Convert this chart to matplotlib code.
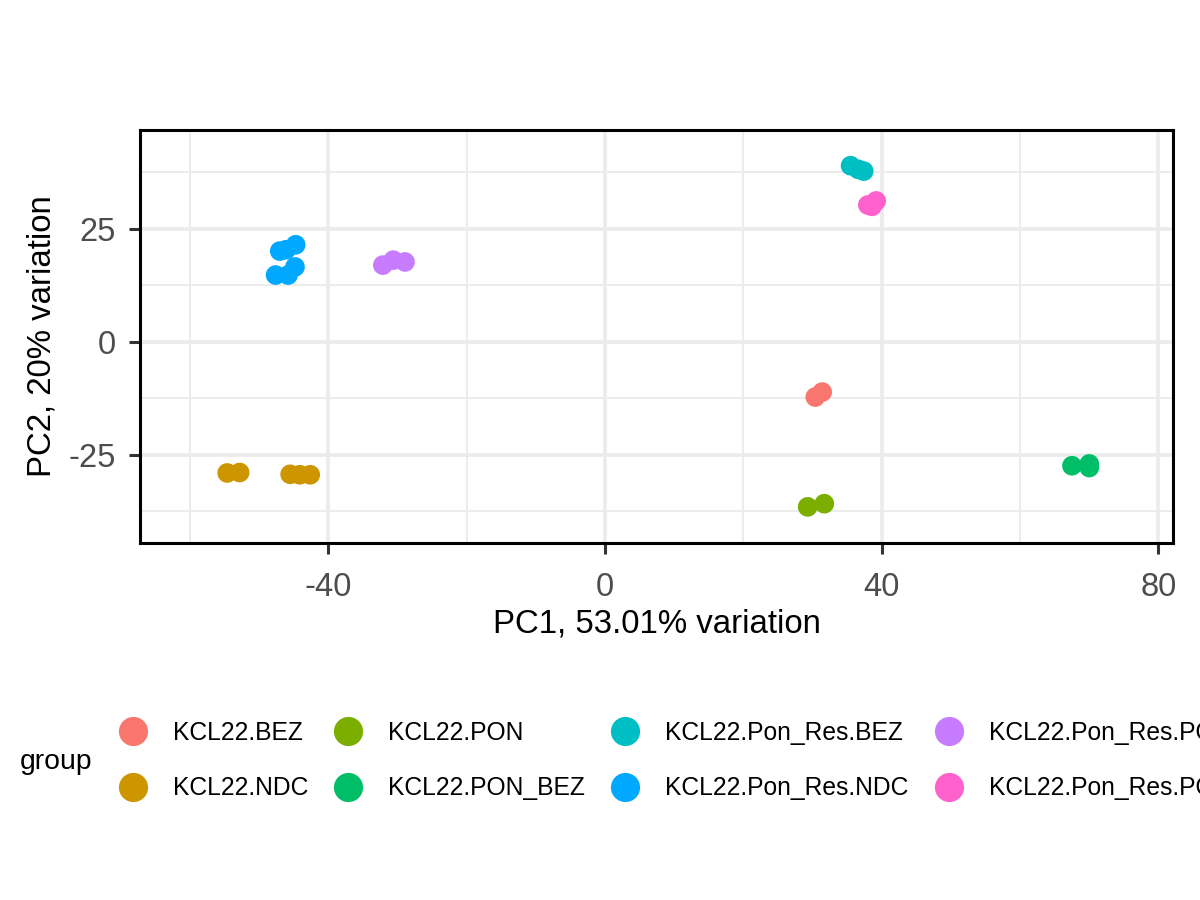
import matplotlib
matplotlib.use("Agg")
import matplotlib.pyplot as plt
from matplotlib.lines import Line2D
from matplotlib.ticker import MultipleLocator

plt.rcParams['font.family'] = ['Liberation Sans', 'DejaVu Sans']
plt.rcParams['axes.unicode_minus'] = False

# PCA scores per group
groups = ['KCL22.BEZ', 'KCL22.NDC', 'KCL22.PON', 'KCL22.PON_BEZ',
          'KCL22.Pon_Res.BEZ', 'KCL22.Pon_Res.NDC', 'KCL22.Pon_Res.PON',
          'KCL22.Pon_Res.PON_BEZ']
colors = ['#F8766D', '#CD9600', '#7CAE00', '#00BE67',
          '#00BFC4', '#00A9FF', '#C77CFF', '#FF61CC']

bez_pc1 = [30.4, 31.4]
bez_pc2 = [-12.2, -11.1]
ndc_pc1 = [-54.6, -52.8, -45.5, -44.1, -42.6]
ndc_pc2 = [-29.0, -28.9, -29.3, -29.4, -29.4]
pon_pc1 = [29.3, 31.7]
pon_pc2 = [-36.5, -35.8]
ponbez_pc1 = [67.5, 70.0, 70.0]
ponbez_pc2 = [-27.4, -27.0, -27.8]
resbez_pc1 = [35.5, 36.6, 37.4]
resbez_pc2 = [39.0, 38.2, 37.8]
resndc_pc1 = [-47.0, -46.1, -44.7, -47.6, -45.8, -44.8]
resndc_pc2 = [20.1, 20.4, 21.5, 14.8, 14.8, 16.6]
respon_pc1 = [-32.1, -30.6, -28.9]
respon_pc2 = [17.0, 18.1, 17.7]
responbez_pc1 = [38.0, 38.6, 39.2]
responbez_pc2 = [30.3, 30.0, 31.2]

pc1 = [bez_pc1, ndc_pc1, pon_pc1, ponbez_pc1, resbez_pc1, resndc_pc1, respon_pc1, responbez_pc1]
pc2 = [bez_pc2, ndc_pc2, pon_pc2, ponbez_pc2, resbez_pc2, resndc_pc2, respon_pc2, responbez_pc2]

fig = plt.figure(figsize=(12, 9), dpi=100)
ax = fig.add_axes([140 / 1200, 1 - 543 / 900, (1173 - 140) / 1200, (543 - 130) / 900])

for g, c, xs, ys in zip(groups, colors, pc1, pc2):
    ax.scatter(xs, ys, s=200, color=c, edgecolors='none', zorder=3)

ax.set_xlim(-67.2, 82.1)
ax.set_ylim(-44.5, 46.9)
ax.xaxis.set_major_locator(MultipleLocator(40))
ax.xaxis.set_minor_locator(MultipleLocator(20))
ax.yaxis.set_major_locator(MultipleLocator(25))
ax.yaxis.set_minor_locator(MultipleLocator(12.5))
ax.grid(which='major', color='#EBEBEB', linewidth=2.6, zorder=0)
ax.grid(which='minor', color='#EBEBEB', linewidth=1.3, zorder=0)
ax.set_axisbelow(True)
ax.tick_params(which='major', length=8, width=2.2, color='#333333',
               labelsize=23.5, labelcolor='#4D4D4D')
ax.tick_params(axis='x', which='major', pad=13)
ax.tick_params(axis='y', which='major', pad=9.5)
ax.tick_params(which='minor', length=0)
for sp in ax.spines.values():
    sp.set_linewidth(2.2)
    sp.set_color('black')

ax.set_xlabel('PC1, 53.01% variation', fontsize=23.8, labelpad=4)
ax.set_ylabel('PC2, 20% variation', fontsize=23.8, labelpad=8)

handles = [Line2D([], [], marker='o', linestyle='none', markersize=21,
                  markerfacecolor=c, markeredgecolor='none') for c in colors]
fig.legend(handles, groups, ncol=4, frameon=False, fontsize=17.75,
           loc='center left', bbox_to_anchor=(118 / 1200, 1 - 760.5 / 900),
           borderpad=0, borderaxespad=0, handlelength=1.2, handletextpad=1.03,
           columnspacing=1.02, labelspacing=1.28)
fig.text(20 / 1200, 1 - 762 / 900, 'group', fontsize=20.4, va='center', ha='left')

fig.savefig('out.png', dpi=100)
